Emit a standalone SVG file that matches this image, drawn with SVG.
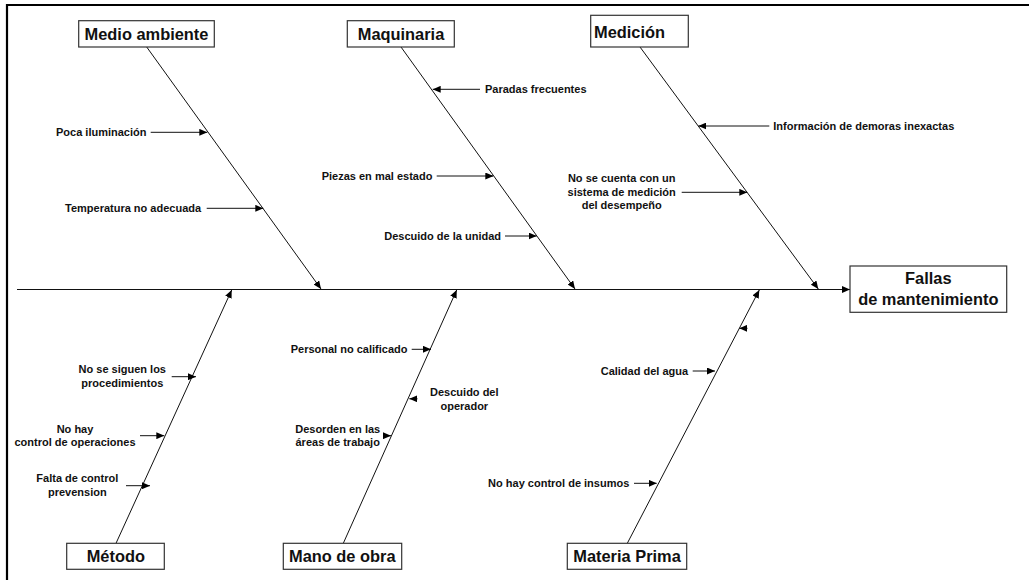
<svg xmlns="http://www.w3.org/2000/svg" width="1029" height="580" viewBox="0 0 1029 580">
<style>
.box{fill:#fff;stroke:#333;stroke-width:1.2}
.big{font-family:"Liberation Sans",Arial,sans-serif;font-weight:bold;font-size:16.4px;fill:#111}
.sm{font-family:"Liberation Sans",Arial,sans-serif;font-weight:bold;font-size:11px;fill:#111}
.mid{text-anchor:middle}
.end{text-anchor:end}
.ln{stroke:#111;stroke-width:1;fill:none;marker-end:url(#ah)}
.frame{stroke:#000;stroke-width:2.2;fill:none}
</style>
<defs>
<marker id="ah" markerUnits="userSpaceOnUse" markerWidth="8" markerHeight="7" refX="8" refY="3.5" orient="auto">
<path d="M0,0 L8,3.5 L0,7 z" fill="#000"/>
</marker>
</defs>
<rect width="1029" height="580" fill="#fff"/>
<path class="frame" d="M7,580 L7,5 L1029,5"/>
<g id="connectors">
<line class="ln" x1="17" y1="289.5" x2="850" y2="289.5"/>
<line class="ln" x1="146.7" y1="47" x2="321" y2="289"/>
<line class="ln" x1="401" y1="47" x2="575" y2="289"/>
<line class="ln" x1="640" y1="47" x2="818.3" y2="289"/>
<line class="ln" x1="116" y1="543.3" x2="231.7" y2="290"/>
<line class="ln" x1="343.3" y1="543.3" x2="456.7" y2="290"/>
<line class="ln" x1="627.3" y1="543.3" x2="759.3" y2="290"/>
<line class="ln" x1="150.7" y1="132.3" x2="207.3" y2="132.3"/>
<line class="ln" x1="206.7" y1="208.3" x2="263.3" y2="208.3"/>
<line class="ln" x1="480" y1="89.3" x2="432.7" y2="89.3"/>
<line class="ln" x1="436.7" y1="176" x2="493.3" y2="176"/>
<line class="ln" x1="505" y1="236" x2="536.7" y2="236"/>
<line class="ln" x1="769.3" y1="126" x2="698.3" y2="126"/>
<line class="ln" x1="681.7" y1="192.3" x2="747.3" y2="192.3"/>
<line class="ln" x1="171.7" y1="376.7" x2="196" y2="376.7"/>
<line class="ln" x1="140" y1="435.7" x2="164.3" y2="435.7"/>
<line class="ln" x1="126" y1="485.7" x2="150" y2="485.7"/>
<line class="ln" x1="411.7" y1="349.3" x2="431" y2="349.3"/>
<line class="ln" x1="417.5" y1="398.8" x2="409.3" y2="398.8"/>
<line class="ln" x1="383" y1="435.7" x2="391" y2="435.7"/>
<line class="ln" x1="747.5" y1="328.3" x2="739.3" y2="328.3"/>
<line class="ln" x1="692.7" y1="371" x2="715" y2="371"/>
<line class="ln" x1="634" y1="483.3" x2="656.7" y2="483.3"/>
</g>
<g id="medio-ambiente">
<rect class="box" x="78.7" y="20.7" width="135.6" height="26.3"/>
<text class="big mid" x="146.5" y="39.7">Medio ambiente</text>
</g>
<g id="maquinaria">
<rect class="box" x="347.3" y="20.7" width="107" height="26.3"/>
<text class="big mid" x="401" y="39.7">Maquinaria</text>
</g>
<g id="medicion">
<rect class="box" x="590.7" y="15.3" width="97.6" height="31.7"/>
<text class="big" x="594" y="38.3">Medición</text>
</g>
<g id="fallas">
<rect class="box" x="850" y="266" width="156.7" height="46.3"/>
<text class="big mid" x="928.3" y="283.7">Fallas</text>
<text class="big mid" x="928.3" y="305.3">de mantenimiento</text>
</g>
<g id="metodo">
<rect class="box" x="66.7" y="543.3" width="97.6" height="26"/>
<text class="big mid" x="115.8" y="562">Método</text>
</g>
<g id="mano-de-obra">
<rect class="box" x="283.3" y="543.3" width="118.4" height="26"/>
<text class="big mid" x="342.3" y="562">Mano de obra</text>
</g>
<g id="materia-prima">
<rect class="box" x="567.3" y="543.3" width="119.4" height="26"/>
<text class="big mid" x="627" y="562">Materia Prima</text>
</g>
<g id="causes">
<text class="sm" x="56" y="136">Poca iluminación</text>
<text class="sm" x="65" y="212">Temperatura no adecuada</text>
<text class="sm" x="485" y="93">Paradas frecuentes</text>
<text class="sm" x="321.7" y="180">Piezas en mal estado</text>
<text class="sm" x="384.3" y="240">Descuido de la unidad</text>
<text class="sm" x="773.3" y="130">Información de demoras inexactas</text>
<text class="sm mid" x="621.7" y="182.3">No se cuenta con un</text>
<text class="sm mid" x="621.7" y="196.3">sistema de medición</text>
<text class="sm mid" x="621.7" y="209">del desempeño</text>
<text class="sm mid" x="122.3" y="373.3">No se siguen los</text>
<text class="sm mid" x="122.3" y="387.3">procedimientos</text>
<text class="sm mid" x="75" y="433">No hay</text>
<text class="sm mid" x="75" y="446.3">control de operaciones</text>
<text class="sm mid" x="77.3" y="482.3">Falta de control</text>
<text class="sm mid" x="77.3" y="496.3">prevension</text>
<text class="sm" x="290.7" y="353.3">Personal no calificado</text>
<text class="sm mid" x="464.3" y="396.3">Descuido del</text>
<text class="sm mid" x="464.3" y="409.7">operador</text>
<text class="sm mid" x="337.7" y="433">Desorden en las</text>
<text class="sm mid" x="337.7" y="446.3">áreas de trabajo</text>
<text class="sm" x="600.7" y="375">Calidad del agua</text>
<text class="sm end" x="629.3" y="487.3">No hay control de insumos</text>
</g>
</svg>
